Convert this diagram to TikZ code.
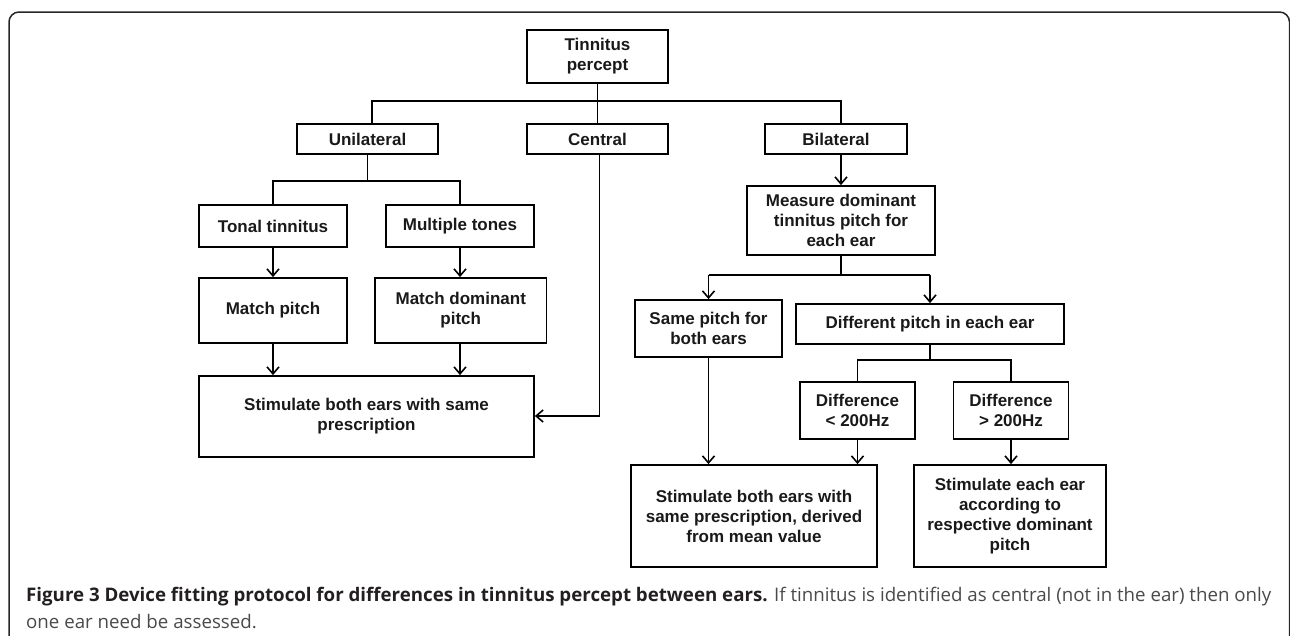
\documentclass[tikz,border=0pt]{standalone}
\usepackage{fontspec}
\setmainfont{Liberation Sans}
\newfontfamily\capfont{Open Sans}
\usetikzlibrary{arrows.meta}
\definecolor{capdark}{HTML}{231F20}
\definecolor{capgray}{HTML}{4A4A4A}
\begin{document}
\begin{tikzpicture}[x=1pt,y=-1pt,
  box/.style={draw=black, line width=1.8pt, align=center, inner sep=2pt,
    font=\bfseries\fontsize{17}{20}\selectfont, text=black!90},
  conn/.style={line width=1.8pt, draw=black},
  arr/.style={conn, -{Straight Barb[length=7pt,width=12pt,line width=1.6pt]}},
  capline/.style={anchor=base west, inner sep=0pt, font=\capfont\fontsize{18.7}{22}\selectfont}
]
\useasboundingbox (0,0) rectangle (1290,635);
\draw[line width=1.5pt, black!85, rounded corners=10pt] (9,640) -- (9,12) -- (1289.5,12) -- (1289.5,640);

% nodes
\node[box, minimum width=141pt, minimum height=53pt] (tp) at (597.5,56.5) {Tinnitus\\percept};
\node[box, minimum width=141pt, minimum height=30pt] (uni) at (367.5,139) {Unilateral};
\node[box, minimum width=141pt, minimum height=30pt] (cen) at (597.5,139) {Central};
\node[box, minimum width=142pt, minimum height=30pt] (bil) at (836,139) {Bilateral};
\node[box, minimum width=148pt, minimum height=42pt] (tonal) at (273,226) {Tonal tinnitus};
\node[box, minimum width=148pt, minimum height=42pt] (mult) at (460,226) {Multiple tones};
\node[box, minimum width=148pt, minimum height=65pt] (mp) at (273,310.5) {Match pitch};
\node[box, minimum width=171.5pt, minimum height=65pt] (mdp) at (460.75,310.5) {Match dominant\\pitch};
\node[box, minimum width=335pt, minimum height=81pt] (stimA) at (366.5,416.5) {Stimulate both ears with same\\prescription};
\node[box, minimum width=188pt, minimum height=69pt] (meas) at (841,220.5) {Measure dominant\\tinnitus pitch for\\each ear};
\node[box, minimum width=147pt, minimum height=57pt] (same) at (708.5,328.5) {Same pitch for\\both ears};
\node[box, minimum width=268.5pt, minimum height=40pt] (diff) at (930,324) {Different pitch in each ear};
\node[box, minimum width=115pt, minimum height=57pt] (dlo) at (857.5,410.5) {Difference\\< 200Hz};
\node[box, minimum width=115pt, minimum height=57pt] (dhi) at (1011,410.5) {Difference\\> 200Hz};
\node[box, minimum width=246pt, minimum height=102pt] (stimB) at (754,516) {Stimulate both ears with\\same prescription, derived\\from mean value};
\node[box, minimum width=192pt, minimum height=102pt] (stimC) at (1010,516) {Stimulate each ear\\according to\\respective dominant\\pitch};

% branch coordinates
\coordinate (h1) at (0,101);
\coordinate (h2) at (0,181);
\coordinate (h3) at (0,275);
\coordinate (h4) at (0,360);
\coordinate (cy) at (0,416);

% connectors
\draw[conn] (tp.south) -- (tp.south |- h1);
\draw[conn] ([xshift=4.5pt]uni.north) -- ([xshift=4.5pt]uni.north |- h1) -- ([xshift=5pt]bil.north |- h1) -- ([xshift=5pt]bil.north);
\draw[conn] (cen.north) -- (cen.north |- h1);
\draw[conn] (uni.south) -- (uni.south |- h2);
\draw[conn] (tonal.north) -- (tonal.north |- h2) -- (mult.north |- h2) -- (mult.north);
\draw[arr] (tonal.south) -- (mp.north);
\draw[arr] (mult.south) -- (mult.south |- mdp.north);
\draw[arr] (mp.south) -- (mp.south |- stimA.north);
\draw[arr] (mult.south |- mdp.south) -- (mult.south |- stimA.north);
\draw[arr] ([xshift=2pt]cen.south) -- ([xshift=2pt]cen.south |- cy) -- (stimA.east |- cy);
\draw[arr] ([xshift=5pt]bil.south) -- (meas.north);
\draw[conn] (meas.south) -- (meas.south |- h3);
\draw[arr] (same.north |- h3) -- (same.north);
\draw[arr] (diff.north |- h3) -- (diff.north);
\draw[conn] (same.north |- h3) -- (diff.north |- h3);
\draw[conn] (diff.south) -- (diff.south |- h4);
\draw[conn] (dlo.north) -- (dlo.north |- h4) -- (dhi.north |- h4) -- (dhi.north);
\draw[arr] (same.south) -- (same.south |- stimB.north);
\draw[arr] (dlo.south) -- (dlo.south |- stimB.north);
\draw[arr] (dhi.south) -- (dhi.south |- stimC.north);

% caption
\node[capline] (cap1) at (26,601) {\textcolor{capdark}{\textbf{Figure 3 Device fitting protocol for differences in tinnitus percept between ears.}} \textcolor{capgray}{If tinnitus is identified as central (not in the ear) then only}};
\node[capline] (cap2) at (26,628) {\textcolor{capgray}{one ear need be assessed.}};
\end{tikzpicture}
\end{document}
